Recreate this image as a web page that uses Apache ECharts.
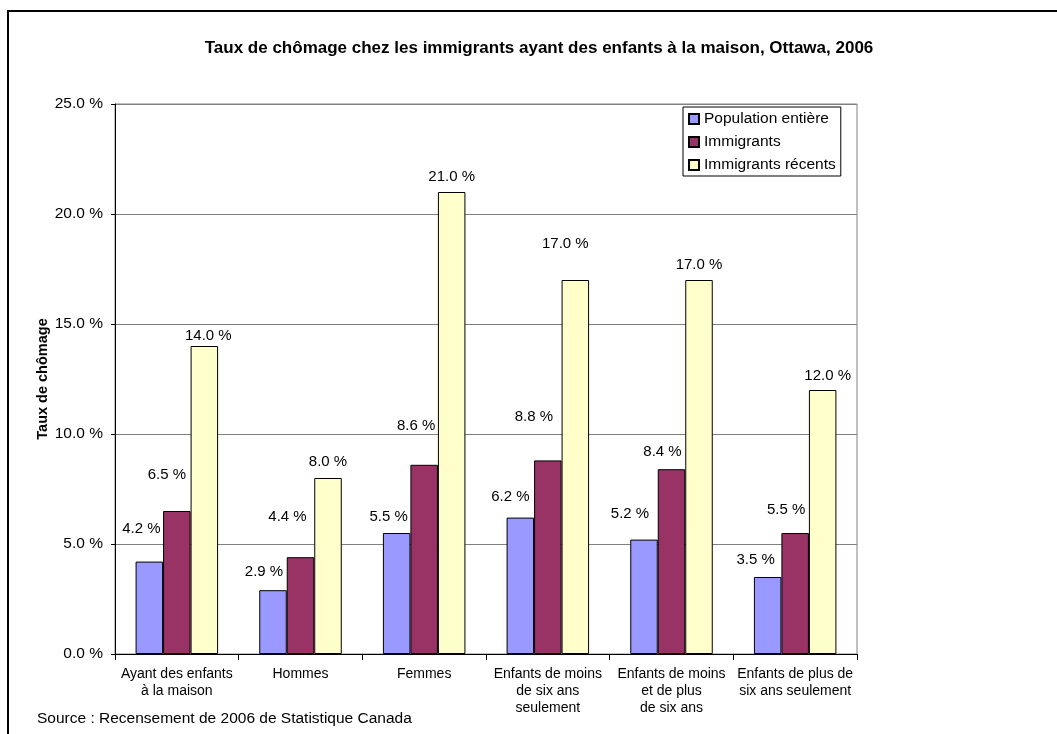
<!DOCTYPE html>
<html>
<head>
<meta charset="utf-8">
<script src="https://cdn.jsdelivr.net/npm/echarts@6/dist/echarts.min.js"></script>
<style>
  html, body { margin: 0; padding: 0; background: #fff; }
  #chart { width: 1057px; height: 734px; }
</style>
</head>
<body>
<div id="chart"></div>
<script>
// Unemployment rates of parents by group, Ottawa 2006 census
const categories = [
  'Ayant des enfants\nà la maison',
  'Hommes',
  'Femmes',
  'Enfants de moins\nde six ans\nseulement',
  'Enfants de moins\net de plus\nde six ans',
  'Enfants de plus de\nsix ans seulement'
];
const seriesNames = ['Population entière', 'Immigrants', 'Immigrants récents'];
const populationEntiere = [4.2, 2.9, 5.5, 6.2, 5.2, 3.5];
const immigrants = [6.5, 4.4, 8.6, 8.8, 8.4, 5.5];
const immigrantsRecents = [14.0, 8.0, 21.0, 17.0, 17.0, 12.0];
const yTicks = [0, 5, 10, 15, 20, 25];

// Label placement (pixels): horizontal shift and lift above the bar top
const labelShiftX = [
  [-8, -9, -8, -10, -14, -12],
  [-10, -13, -8, -14, -9, -9],
  [4, 0, 0, -10, 0, 5]
];
const labelLift = [
  [33, 18, 16, 21, 26, 17],
  [36, 40, 39, 44, 17, 23],
  [10, 16, 15, 36, 15, 14]
];

const FONT = "'Liberation Sans', Arial, sans-serif";
const colors = ['#9999FF', '#993366', '#FFFFCC'];
const values = [populationEntiere, immigrants, immigrantsRecents];

const pct = v => v.toFixed(1) + ' %';

const series = values.map((arr, s) => ({
  name: seriesNames[s],
  type: 'bar',
  barWidth: 27.5,
  barGap: '0%',
  itemStyle: { color: colors[s], borderColor: '#000', borderWidth: 1 },
  data: arr.map((v, i) => ({
    value: v,
    label: {
      offset: [labelShiftX[s][i], -(labelLift[s][i] - 7.5)]
    }
  })),
  label: {
    show: true,
    position: 'top',
    distance: 0,
    fontFamily: FONT,
    fontSize: 15,
    lineHeight: 15,
    color: '#000',
    formatter: p => pct(p.value)
  },
  emphasis: { disabled: true },
  animation: false
}));

const chart = echarts.init(document.getElementById('chart'), null, { renderer: 'canvas' });
chart.setOption({
  backgroundColor: '#fff',
  animation: false,
  textStyle: { fontFamily: FONT },
  grid: {
    left: 115, top: 104, right: 200, bottom: 80,
    show: true, borderColor: '#808080', borderWidth: 1, backgroundColor: 'transparent'
  },
  legend: {
    orient: 'vertical',
    left: 683, top: 107,
    padding: [3, 5, 2, 5],
    itemWidth: 10, itemHeight: 10, itemGap: 5,
    backgroundColor: '#fff',
    borderColor: '#000', borderWidth: 1,
    icon: 'rect',
    textStyle: { fontFamily: FONT, fontSize: 15.5, lineHeight: 18, color: '#000' },
    data: seriesNames
  },
  xAxis: {
    type: 'category',
    data: categories,
    axisLine: { lineStyle: { color: '#000', width: 1 } },
    axisTick: { show: true, length: 6, lineStyle: { color: '#000' } },
    axisLabel: {
      interval: 0, margin: 12,
      fontFamily: FONT, fontSize: 14, lineHeight: 17, color: '#000', align: 'center'
    }
  },
  yAxis: {
    type: 'value',
    min: yTicks[0], max: yTicks[yTicks.length - 1], interval: yTicks[1] - yTicks[0],
    name: 'Taux de chômage',
    nameLocation: 'middle',
    nameGap: 65,
    nameMoveOverlap: false,
    nameTextStyle: { fontFamily: FONT, fontSize: 14.5, fontWeight: 'bold', color: '#000' },
    axisLine: { show: true, lineStyle: { color: '#000', width: 1 } },
    axisTick: { show: true, length: 4, lineStyle: { color: '#000' } },
    axisLabel: {
      margin: 12, fontFamily: FONT, fontSize: 15.5, color: '#000',
      formatter: v => pct(v)
    },
    splitLine: { show: true, lineStyle: { color: '#808080', width: 1 } }
  },
  series: series,
  graphic: [
    {
      type: 'rect',
      shape: { x: 8, y: 11, width: 1200, height: 900 },
      style: { fill: 'none', stroke: '#000', lineWidth: 2 },
      silent: true, z: 100
    },
    {
      type: 'text',
      x: 539, y: 48,
      style: {
        text: 'Taux de chômage chez les immigrants ayant des enfants à la maison, Ottawa, 2006',
        font: 'bold 17px ' + FONT,
        fill: '#000', textAlign: 'center', textVerticalAlign: 'middle'
      }
    },
    {
      type: 'text',
      x: 37, y: 719,
      style: {
        text: 'Source : Recensement de 2006 de Statistique Canada',
        font: '15.5px ' + FONT,
        fill: '#000', textAlign: 'left', textVerticalAlign: 'middle'
      }
    }
  ]
});
</script>
</body>
</html>
